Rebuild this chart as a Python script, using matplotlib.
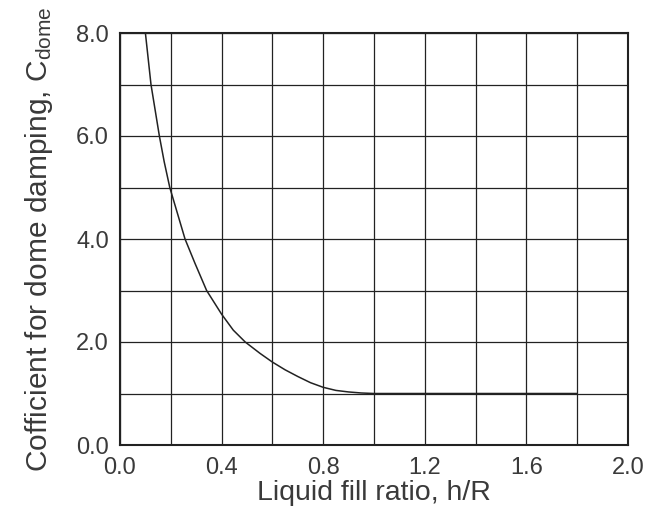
import matplotlib
matplotlib.use("Agg")
import matplotlib.pyplot as plt
import numpy as np

plt.rcParams['font.family'] = ['Liberation Sans', 'DejaVu Sans']
plt.rcParams['mathtext.fontset'] = 'custom'
plt.rcParams['mathtext.rm'] = 'Liberation Sans'
plt.rcParams['mathtext.it'] = 'Liberation Sans:italic'

# Curve
fill_ratio = [0.100, 0.111, 0.122, 0.155, 0.174, 0.196, 0.226, 0.256, 0.295, 0.341,
              0.400, 0.446, 0.493, 0.551, 0.600, 0.650, 0.700, 0.750, 0.800, 0.850,
              0.900, 0.950, 1.000, 1.800]
c_dome = [8.00, 7.50, 7.00, 6.00, 5.50, 5.00, 4.50, 4.00, 3.53, 3.00,
          2.54, 2.23, 2.00, 1.78, 1.61, 1.46, 1.33, 1.21, 1.12, 1.06,
          1.03, 1.01, 1.00, 1.00]

x_major = [0.0, 0.4, 0.8, 1.2, 1.6, 2.0]
x_minor = [0.2, 0.6, 1.0, 1.4, 1.8]
y_major = [0.0, 2.0, 4.0, 6.0, 8.0]
y_minor = [1.0, 3.0, 5.0, 7.0]

text_color = '#3a3a3a'

fig = plt.figure(figsize=(6.46, 5.13), dpi=100)
ax = fig.add_axes([120/646, 1-445/513, 508/646, 412/513])

ax.plot(fill_ratio, c_dome, color='#222222', lw=1.1, zorder=3,
        solid_joinstyle='round')

ax.set_xlim(0, 2.0)
ax.set_ylim(0, 8.0)
ax.set_xticks(x_major)
ax.set_xticks(x_minor, minor=True)
ax.set_yticks(y_major)
ax.set_yticks(y_minor, minor=True)
ax.set_xticklabels([f"{v:.1f}" for v in x_major])
ax.set_yticklabels([f"{v:.1f}" for v in y_major])
ax.grid(True, which='both', color='#222222', lw=0.9)
ax.set_axisbelow(True)
ax.tick_params(which='both', length=0)
ax.tick_params(axis='x', pad=9, labelsize=17, colors=text_color)
ax.tick_params(axis='y', pad=8, labelsize=17, colors=text_color)
for s in ax.spines.values():
    s.set_color('#222222')
    s.set_linewidth(1.5)

ax.set_xlabel('Liquid fill ratio, h/R', fontsize=20.5, color=text_color, labelpad=0)
ax.set_ylabel(r'Cofficient for dome damping, C$_{\mathrm{dome}}$', fontsize=21.5,
              color=text_color, labelpad=15)

fig.savefig('out.png', dpi=100)
